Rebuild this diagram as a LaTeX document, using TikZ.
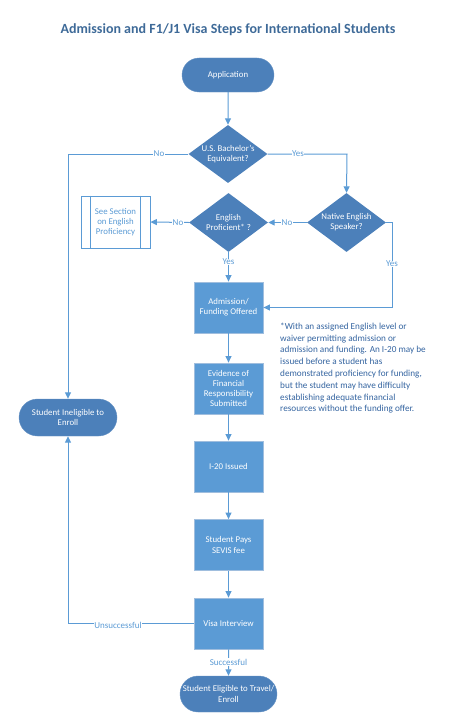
\documentclass[tikz,border=0pt]{standalone}
\usepackage{fontspec}
\setmainfont{Carlito}
\usetikzlibrary{shapes.geometric,shapes.misc,arrows.meta,positioning}
\definecolor{dark}{RGB}{76,128,186}
\definecolor{light}{RGB}{91,155,213}
\definecolor{bord}{RGB}{160,190,222}
\definecolor{titlec}{RGB}{62,106,152}
\definecolor{linec}{RGB}{91,155,213}
\definecolor{notec}{RGB}{52,100,160}
\tikzset{
  term/.style={rounded rectangle, fill=dark, draw=dark!85!white, text=white, font=\fontsize{8.8}{10.2}\selectfont, align=center, inner sep=0pt},
  dec/.style={diamond, fill=dark, text=white, font=\fontsize{8.8}{10.2}\selectfont, align=center, inner sep=0pt, aspect=1.36},
  proc/.style={rectangle, fill=light, draw=bord, line width=0.8pt, text=white, font=\fontsize{8.8}{10.2}\selectfont, align=center, minimum width=69pt, minimum height=51pt, inner sep=0pt},
  conn/.style={draw=linec, line width=1pt, -{Triangle[length=6.5pt,width=6pt]}},
  lab/.style={fill=white, text=linec, font=\fontsize{9}{10}\selectfont, inner sep=0.5pt},
}
\begin{document}
\begin{tikzpicture}[x=1pt,y=-1pt]
\useasboundingbox (0,0) rectangle (469,717);
\node[text=titlec, font=\bfseries\fontsize{14}{16}\selectfont] (title) at (228,30) {Admission and F1/J1 Visa Steps for International Students};

\node[term, minimum width=92pt, minimum height=34pt] (app) at (228,75) {Application};
\node[dec, minimum width=79pt, minimum height=58pt] (bach) at (228,154) {U.S. Bachelor's\\Equivalent?};
\node[dec, minimum width=79pt, minimum height=59pt] (native) at (346.5,222.5) {Native English\\Speaker?};
\node[dec, minimum width=79pt, minimum height=59pt] (prof) at (228.5,222.5) {English\\Proficient* ?};
\node[draw=light, line width=0.8pt, fill=white, minimum width=69pt, minimum height=52pt, text=light, font=\fontsize{8.8}{10.2}\selectfont, align=center, inner sep=0pt] (see) at (115.5,222) {See Section\\on English\\Proficiency};
\draw[light, line width=0.8pt] ([xshift=10pt]see.north west) -- ([xshift=10pt]see.south west)
  ([xshift=-10pt]see.north east) -- ([xshift=-10pt]see.south east);

\node[proc] (adm) at (228.5,307.5) {Admission/\\Funding Offered};
\node[proc] (evid) at (228.5,388.5) {Evidence of\\Financial\\Responsibility\\Submitted};
\node[proc] (i20) at (228.5,466.5) {I-20 Issued};
\node[proc] (pays) at (228.5,545) {Student Pays\\SEVIS fee};
\node[proc] (visa) at (228.5,623.5) {Visa Interview};
\node[term, minimum width=97pt, minimum height=36pt] (elig) at (228.5,694) {Student Eligible to Travel/\\Enroll};
\node[term, minimum width=98pt, minimum height=37pt] (inel) at (68,417.5) {Student Ineligible to\\Enroll};

\node[text=notec, font=\fontsize{9.2}{11.8}\selectfont, align=left, anchor=north west, inner sep=0pt] (note) at (280,322.5) {*With an assigned English level or\\waiver permitting admission or\\admission and funding. An I-20 may be\\issued before a student has\\demonstrated proficiency for funding,\\but the student may have difficulty\\establishing adequate financial\\resources without the funding offer.};

\coordinate (c1) at (68,154);
\coordinate (c2) at (347,154);
\coordinate (c3) at (392,222.5);
\coordinate (c4) at (392,307.5);
\coordinate (c5) at (68,623.5);

\draw[conn] (app) -- (bach);
\draw[conn] (bach.west) -- (c1) -- (inel.north);
\node[lab] at (159,154) {No};
\draw[conn] (bach.east) -- (c2) -- (native.north);
\node[lab] at (298,154) {Yes};
\draw[conn] (native.west) -- (prof.east);
\node[lab] at (287,222.5) {No};
\draw[conn] (prof.west) -- (see.east);
\node[lab] at (178,222.5) {No};
\draw[conn] (prof.south) -- (adm.north);
\node[lab] at (228.5,262) {Yes};
\draw[conn] (native.east) -- (c3) -- (c4) -- (adm.east);
\node[lab] at (392,264) {Yes};
\draw[conn] (adm) -- (evid);
\draw[conn] (evid) -- (i20);
\draw[conn] (i20) -- (pays);
\draw[conn] (pays) -- (visa);
\draw[conn] (visa) -- (elig);
\node[lab] at (228.5,662) {Successful};
\draw[conn] (visa.west) -- (c5) -- (inel.south);
\node[lab] at (118,625) {Unsuccessful};
\end{tikzpicture}
\end{document}
